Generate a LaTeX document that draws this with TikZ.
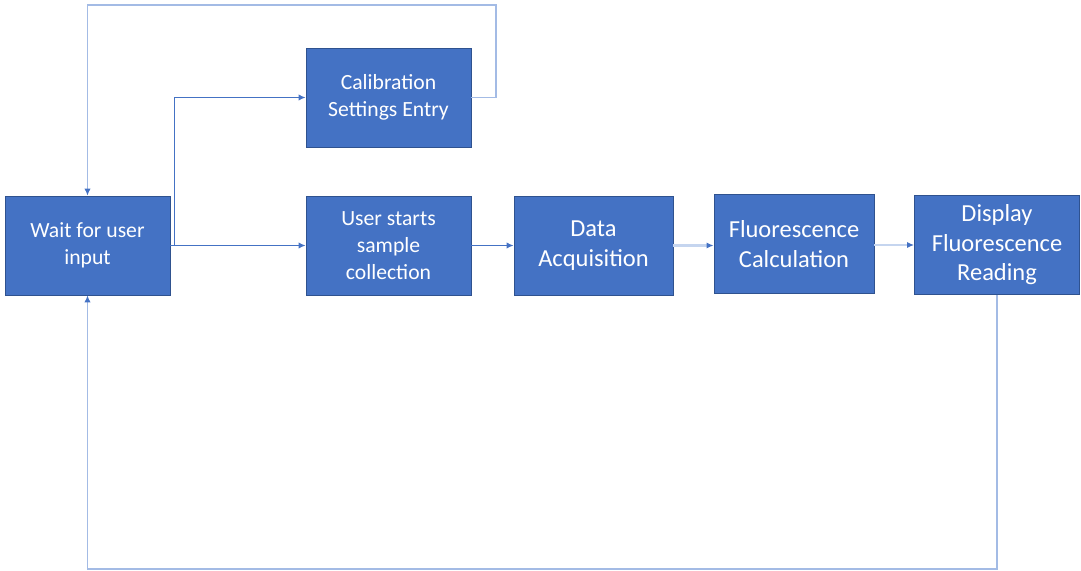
\documentclass[tikz,border=0pt]{standalone}
\usepackage{fontspec}
\setmainfont{Carlito}
\usetikzlibrary{arrows.meta}
\definecolor{boxblue}{HTML}{4472C4}
\definecolor{boxedge}{HTML}{2F528F}
\definecolor{fbline}{HTML}{A3BBE5}
\definecolor{paleline}{HTML}{C5D5EF}
\tikzset{
  stepbox/.style={draw=boxedge, line width=0.6pt, fill=boxblue, text=white,
    align=center, minimum width=4.125cm, minimum height=2.475cm, inner sep=2pt,
    font=\fontsize{15.4}{19.2}\selectfont},
  bigbox/.style={stepbox, font=\fontsize{17.4}{21}\selectfont},
  flow/.style={draw=boxblue, line width=0.75pt},
  pale/.style={draw=paleline, line width=1.5pt},
  fb/.style={draw=fbline, line width=0.75pt}
}
\begin{document}
\begin{tikzpicture}[>={Latex[length=5pt,width=4.5pt]}, x=0.025cm, y=-0.025cm]
\useasboundingbox (0,0) rectangle (1081,571);

\node[stepbox] (wait) at (87.5,245.5) {Wait for user\\input};
\node[stepbox] (calib) at (388.5,97.5) {Calibration\\Settings Entry};
\node[stepbox] (start) at (388.5,245.5) {User starts\\sample\\collection};
\node[bigbox, minimum width=3.975cm] (acq) at (593.5,245.5) {Data\\Acquisition};
\node[bigbox, minimum width=4cm] (calc) at (794,244) {Fluorescence\\Calculation};
\node[bigbox] (disp) at (997,245) {Display\\Fluorescence\\Reading};

\coordinate (topc) at (496,5);
\coordinate (botc) at (0,569);

\draw[flow,->] (wait.east) -- (start.west);
\draw[flow,->] (wait.east) -- ++(4,0) |- (calib.west);
\draw[flow,->] (start.east) -- (acq.west);
\draw[pale,-{Latex[length=5pt,width=4.5pt,color=boxblue]}] (acq.east) -- (acq.east -| calc.west);
\draw[pale,-{Latex[length=5pt,width=4.5pt,color=boxblue]}] (calc.east |- disp) -- (disp.west);

% feedback loops
\draw[fb,-{Latex[length=5pt,width=4.5pt,color=boxblue]}] (calib.east) -| (topc) -| (wait.north);
\draw[fb,-{Latex[length=5pt,width=4.5pt,color=boxblue]}] (disp.south) -- (disp.south |- botc) -| (wait.south);

\end{tikzpicture}
\end{document}
